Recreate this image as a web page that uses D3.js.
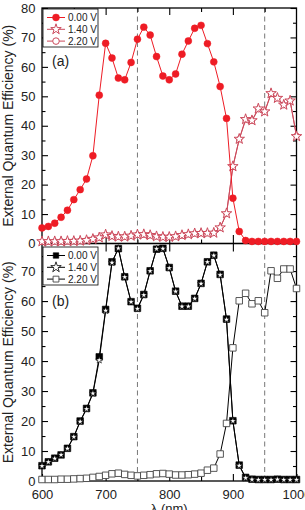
<!DOCTYPE html>
<html><head><meta charset="utf-8">
<script src="https://cdn.jsdelivr.net/npm/d3@7/dist/d3.min.js"></script>
<style>body{margin:0;background:#fff}svg{display:block}text{font-family:"Liberation Sans",Arial,sans-serif}</style>
</head><body><svg id="c" width="305" height="510"></svg>
<script>
// ---- data ----
const wavelength = [600,610,620,630,640,650,660,670,680,690,700,710,720,730,740,750,760,770,780,790,800,810,820,830,840,850,860,870,880,890,900,910,920,930,940,950,960,970,980,990,1000];
const seriesNames = ["0.00 V","1.40 V","2.20 V"];
const xTicks = [600,700,800,900,1000];
const yTicksTop = [0,10,20,30,40,50,60,70,80];
const yTicksBottom = [0,10,20,30,40,50,60,70];
const markerLines = [750,950];
// panel (a)
const a_000 = [5.3,5.8,6.9,8.9,11.3,14.9,18.3,21.9,29.8,50.4,68.0,63.0,56.2,55.6,61.5,69.4,73.5,70.8,63.5,56.9,55.6,57.6,64.3,68.8,73.1,74.1,67.9,61.7,53.3,42.5,15.4,4.1,1.0,0.7,0.7,0.7,0.7,0.7,0.7,0.7,0.7];
const a_140 = [0.7,0.7,0.7,0.7,0.8,0.8,0.9,1.1,1.5,2.0,3.0,2.5,2.3,2.3,2.6,3.0,3.1,2.8,2.4,2.2,2.2,2.4,2.8,3.1,3.4,3.5,3.5,3.6,5.4,10.2,26.2,35.5,42.2,41.8,45.8,44.8,51.0,49.4,47.1,48.5,36.4];
const a_220 = [0.6,0.6,0.7,0.7,0.7,0.8,0.9,1.1,1.5,2.0,2.9,2.5,2.3,2.3,2.6,3.0,3.0,2.8,2.4,2.2,2.2,2.4,2.7,3.1,3.4,3.5,3.5,3.6,5.3,10.1,26.0,35.4,42.0,41.7,45.6,44.7,50.8,49.3,47.0,48.4,36.6];
// panel (b)
const b_000 = [5.1,6.4,7.6,8.7,10.9,14.8,20.0,24.2,29.4,41.4,57.2,73.1,77.5,68.1,59.8,57.6,62.2,70.1,77.3,77.6,71.2,63.3,58.3,58.3,60.9,65.9,73.1,75.3,68.9,54.0,20.1,5.3,1.2,0.6,0.5,0.5,0.5,0.6,0.5,0.5,0.5];
const b_140 = [5.0,6.3,7.5,8.7,10.8,14.7,19.8,24.0,29.2,40.3,56.8,72.8,77.6,68.0,59.7,57.4,62.0,70.0,77.4,77.5,71.0,63.2,58.2,58.2,60.8,65.8,73.0,75.2,68.7,53.8,20.0,5.1,1.0,0.5,0.4,0.4,0.4,0.5,0.4,0.4,0.4];
const b_220 = [0.5,0.5,0.5,0.6,0.6,0.7,0.8,0.9,1.2,1.5,1.9,2.4,2.6,2.2,1.9,1.7,1.9,2.1,2.4,2.5,2.3,2.0,2.0,2.1,2.3,2.6,3.6,4.3,9.0,19.2,44.4,60.1,62.6,59.1,60.1,56.1,70.1,67.6,70.7,70.7,64.2];

// ---- layout ----
const svg = d3.select("#c");
const L = 42, R = 296.5, T = 8, MID = 243.5, B = 481;
const x = d3.scaleLinear().domain([600,1000]).range([L,R]);
const yA = d3.scaleLinear().domain([0,80]).range([MID,T]);
const yB = d3.scaleLinear().domain([0,79.2]).range([B,MID]);

const RED = "#ee1c25", PINK = "#cc4a5c";

function range(a,b,s){const r=[];for(let v=a;v<=b+1e-9;v+=s)r.push(v);return r;}
function axisG(axis, tx, ty, labels){
  const g = svg.append("g").attr("transform",`translate(${tx},${ty})`).call(axis);
  g.select(".domain").remove();
  g.selectAll("line").attr("stroke","#000").attr("stroke-width",1.1);
  if(labels){ g.selectAll("text").attr("font-size",13).attr("fill","#222").attr("font-family",'"Liberation Sans",Arial,sans-serif'); }
  else g.selectAll("text").remove();
  return g;
}

// dashed lines
markerLines.forEach(v=>{
  svg.append("line").attr("x1",x(v)).attr("x2",x(v)).attr("y1",T).attr("y2",B)
    .attr("stroke","#777").attr("stroke-width",1).attr("stroke-dasharray","5,3.5");
});

// ---- axes panel (a) ----
axisG(d3.axisLeft(yA).tickValues(yTicksTop).tickSize(-6).tickPadding(6.5).tickFormat(d3.format("d")), L,0,true);
axisG(d3.axisLeft(yA).tickValues(range(5,75,10)).tickSize(-3.5), L,0,false);
axisG(d3.axisRight(yA).tickValues(yTicksTop).tickSize(-6), R,0,false);
axisG(d3.axisRight(yA).tickValues(range(5,75,10)).tickSize(-3.5), R,0,false);
axisG(d3.axisTop(x).tickValues([700,800,900]).tickSize(-7), 0,T,false);
axisG(d3.axisTop(x).tickValues([650,750,850,950]).tickSize(-4), 0,T,false);
axisG(d3.axisBottom(x).tickValues([700,800,900]).tickSize(-8.5), 0,MID,false);
axisG(d3.axisBottom(x).tickValues([650,750,850,950]).tickSize(-4), 0,MID,false);
// ---- axes panel (b) ----
axisG(d3.axisTop(x).tickValues([700,800,900]).tickSize(-8), 0,MID,false);
axisG(d3.axisLeft(yB).tickValues(yTicksBottom).tickSize(-6).tickPadding(6.5).tickFormat(d3.format("d")), L,0,true);
axisG(d3.axisLeft(yB).tickValues(range(5,75,10)).tickSize(-3.5), L,0,false);
axisG(d3.axisRight(yB).tickValues(yTicksBottom).tickSize(-6), R,0,false);
axisG(d3.axisRight(yB).tickValues(range(5,75,10)).tickSize(-3.5), R,0,false);
const xb = axisG(d3.axisBottom(x).tickValues(xTicks).tickSize(-7).tickPadding(9).tickFormat(d3.format("d")), 0,B,true);
axisG(d3.axisBottom(x).tickValues([650,750,850,950]).tickSize(-4), 0,B,false);

// frames
svg.append("rect").attr("x",L).attr("y",T).attr("width",R-L).attr("height",MID-T).attr("fill","none").attr("stroke","#000").attr("stroke-width",1.3);
svg.append("rect").attr("x",L).attr("y",MID).attr("width",R-L).attr("height",B-MID).attr("fill","none").attr("stroke","#000").attr("stroke-width",1.3);

// ---- series ----
const sym = (type,size)=>d3.symbol().type(type).size(size)();
function drawSeries(vals, y, stroke, lineColor, marker){
  const line = d3.line().x((d,i)=>x(wavelength[i])).y(d=>y(d));
  svg.append("path").attr("d",line(vals)).attr("fill","none").attr("stroke",lineColor).attr("stroke-width",1);
  svg.append("g").selectAll("path").data(vals).join("path")
    .attr("transform",(d,i)=>`translate(${x(wavelength[i])},${y(d)})`)
    .attr("d",sym(marker.type,marker.size))
    .attr("fill",marker.fill).attr("stroke",stroke).attr("stroke-width",marker.sw);
}
const mA = [
  {type:d3.symbolCircle,size:38,fill:RED,sw:0.5},
  {type:d3.symbolStar,size:34,fill:"#fff",sw:1},
  {type:d3.symbolCircle,size:24,fill:"#fff",sw:1}
];
const mB = [
  {type:d3.symbolSquare,size:44,fill:"#000",sw:0.6},
  {type:d3.symbolStar,size:15,fill:"#fff",sw:0.6},
  {type:d3.symbolSquare,size:42,fill:"#fff",sw:0.9}
];
drawSeries(a_220, yA, PINK, PINK, mA[2]);
drawSeries(a_140, yA, PINK, PINK, mA[1]);
drawSeries(a_000, yA, RED, RED, mA[0]);
drawSeries(b_000, yB, "#000", "#000", mB[0]);
drawSeries(b_140, yB, "#000", "#000", mB[1]);
drawSeries(b_220, yB, "#444", "#000", mB[2]);

// ---- legends ----
function legend(y0, items){
  svg.append("rect").attr("x",43).attr("y",y0).attr("width",55).attr("height",38)
    .attr("fill","#fff").attr("stroke","#000").attr("stroke-width",0.8);
  items.forEach((it,i)=>{
    const cy = y0+8.5+i*11.8;
    svg.append("line").attr("x1",47).attr("x2",65).attr("y1",cy).attr("y2",cy).attr("stroke",it.line).attr("stroke-width",1);
    svg.append("path").attr("transform",`translate(56,${cy})`).attr("d",sym(it.m.type,it.m.size))
      .attr("fill",it.m.fill).attr("stroke",it.stroke).attr("stroke-width",it.m.sw);
    svg.append("text").attr("x",68).attr("y",cy+3.6).attr("font-size",10).attr("fill","#222").text(seriesNames[i]);
  });
}
legend(9,[{line:RED,stroke:RED,m:mA[0]},{line:PINK,stroke:PINK,m:mA[1]},{line:PINK,stroke:PINK,m:{type:d3.symbolCircle,size:34,fill:"#fff",sw:1}}]);
legend(247,[{line:"#000",stroke:"#000",m:{type:d3.symbolSquare,size:30,fill:"#000",sw:0.6}},{line:"#000",stroke:"#000",m:{type:d3.symbolStar,size:34,fill:"#fff",sw:0.8}},{line:"#000",stroke:"#444",m:{type:d3.symbolSquare,size:34,fill:"#fff",sw:0.9}}]);

// panel labels
svg.append("text").attr("x",52).attr("y",66).attr("font-size",14).attr("fill","#222").text("(a)");
svg.append("text").attr("x",52).attr("y",306).attr("font-size",14).attr("fill","#222").text("(b)");

// axis titles
svg.append("text").attr("transform",`translate(13,${(T+MID)/2}) rotate(-90)`).attr("text-anchor","middle").attr("font-size",14).attr("fill","#222").text("External Quantum Efficiency (%)");
svg.append("text").attr("transform",`translate(13,${(MID+B)/2}) rotate(-90)`).attr("text-anchor","middle").attr("font-size",14).attr("fill","#222").text("External Quantum Efficiency (%)");
svg.append("text").attr("x",(L+R)/2).attr("y",512.5).attr("text-anchor","middle").attr("font-size",13).attr("fill","#222").text("λ (nm)");
</script></body></html>
